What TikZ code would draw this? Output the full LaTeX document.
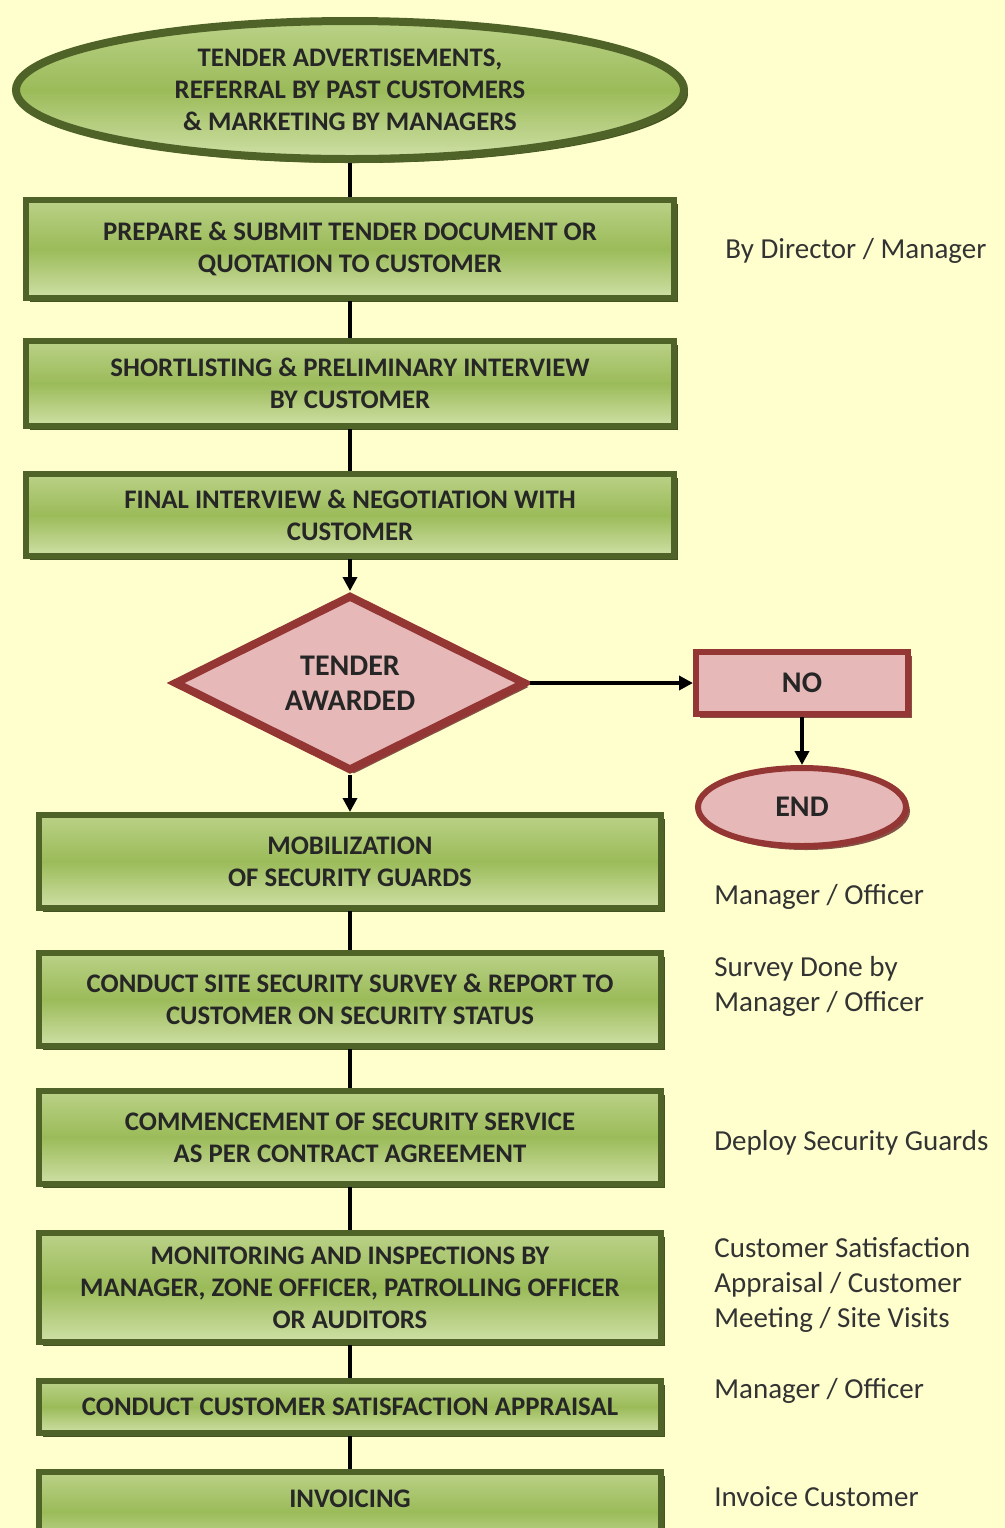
\documentclass[tikz,border=0pt]{standalone}
\usepackage{fontspec}
\setmainfont{Carlito}
\usetikzlibrary{arrows.meta,positioning,shapes.geometric,shadows}

\definecolor{bgyellow}{HTML}{FFFFCE}
\definecolor{olivedark}{HTML}{4F6228}
\definecolor{olivemid}{HTML}{9BBB59}
\definecolor{olivelight}{HTML}{CFE0A6}
\definecolor{reddark}{HTML}{943634}
\definecolor{pinkfill}{HTML}{E6B9B8}
\definecolor{notegray}{HTML}{333333}

\tikzset{
  greenfill/.style={top color=olivelight!60!olivemid, bottom color=olivelight, middle color=olivemid},
  greenshadow/.style={drop shadow={shadow xshift=2pt, shadow yshift=-2pt, fill=olivedark!85!black, opacity=1}},
  redshadow/.style={drop shadow={shadow xshift=2pt, shadow yshift=-2pt, fill=reddark!70!black, opacity=.8}},
  boxtext/.style={align=center, text=black!85, font=\fontsize{13.4pt}{16pt}\selectfont\bfseries},
  stepbox/.style={rectangle, draw=olivedark, line width=3pt, greenfill, greenshadow, boxtext},
  startshape/.style={ellipse, draw=olivedark, line width=4pt, inner sep=0pt, greenfill, greenshadow, boxtext},
  decision/.style={diamond, aspect=2, draw=reddark, line width=4pt, inner sep=0pt, fill=pinkfill, redshadow,
    align=center, text=black!85, font=\fontsize{15pt}{17.5pt}\selectfont\bfseries},
  endbox/.style={draw=reddark, line width=3pt, fill=pinkfill, redshadow,
    text=black!85, font=\fontsize{15pt}{17.5pt}\selectfont\bfseries},
  note/.style={anchor=west, inner sep=0pt, align=left, text=notegray, font=\fontsize{14.5pt}{17.5pt}\selectfont},
  conn/.style={line width=2.3pt, black}
}

\begin{document}
\begin{tikzpicture}[x=0.5pt, y=-0.5pt, >={Triangle[length=7pt,width=7pt]}]
  \useasboundingbox (0,0) rectangle (1005,1528);
  \clip (0,0) rectangle (1005,1528);
  \fill[bgyellow] (0,0) rectangle (1005,1528);

  % main column
  \node[startshape, minimum width=334pt, minimum height=69pt] (src) at (350,90)
    {TENDER ADVERTISEMENTS,\\REFERRAL BY PAST CUSTOMERS\\\& MARKETING BY MANAGERS};
  \node[stepbox, minimum width=324pt, minimum height=49pt, below=17pt of src] (prep)
    {PREPARE \& SUBMIT TENDER DOCUMENT OR\\QUOTATION TO CUSTOMER};
  \node[stepbox, minimum width=324pt, minimum height=42.5pt, below=18.5pt of prep] (short)
    {SHORTLISTING \& PRELIMINARY INTERVIEW\\BY CUSTOMER};
  \node[stepbox, minimum width=324pt, minimum height=41pt, below=21pt of short] (final)
    {FINAL INTERVIEW \& NEGOTIATION WITH\\CUSTOMER};
  \node[decision, minimum width=176pt, minimum height=88pt, below=16pt of final] (award)
    {TENDER\\AWARDED};
  \node[stepbox, minimum width=311pt, minimum height=46.5pt, below=18.5pt of award] (mob)
    {MOBILIZATION\\OF SECURITY GUARDS};
  \node[stepbox, minimum width=311pt, minimum height=46.5pt, below=19.5pt of mob] (survey)
    {CONDUCT SITE SECURITY SURVEY \& REPORT TO\\CUSTOMER ON SECURITY STATUS};
  \node[stepbox, minimum width=311pt, minimum height=46.5pt, below=19.5pt of survey] (comm)
    {COMMENCEMENT OF SECURITY SERVICE\\AS PER CONTRACT AGREEMENT};
  \node[stepbox, minimum width=311pt, minimum height=54.5pt, below=21.5pt of comm] (monit)
    {MONITORING AND INSPECTIONS BY\\MANAGER, ZONE OFFICER, PATROLLING OFFICER\\OR AUDITORS};
  \node[stepbox, minimum width=311pt, minimum height=26pt, below=16.5pt of monit] (apprs)
    {CONDUCT CUSTOMER SATISFACTION APPRAISAL};
  \node[stepbox, minimum width=311pt, minimum height=40pt, text height=9pt, text depth=14pt,
    below=16.5pt of apprs] (inv) {INVOICING};

  % no branch
  \node[endbox, minimum width=106pt, minimum height=31pt, right=81.5pt of award] (no) {NO};
  \node[endbox, ellipse, inner sep=0pt, minimum width=104pt, minimum height=39pt,
    below=24pt of no] (stop) {END};

  % connectors
  \draw[conn] (src) -- (prep);
  \draw[conn] (prep) -- (short);
  \draw[conn] (short) -- (final);
  \draw[conn,->] (final) -- (award);
  \draw[conn,->] (award) -- (mob);
  \draw[conn] (mob) -- (survey);
  \draw[conn] (survey) -- (comm);
  \draw[conn] (comm) -- (monit);
  \draw[conn] (monit) -- (apprs);
  \draw[conn] (apprs) -- (inv);
  \draw[conn,->] (award) -- (no);
  \draw[conn,->] (no) -- (stop);

  % side notes
  \node[note] (ndir) at (725,251) {By Director / Manager};
  \node[note] (nmob) at (714,897) {Manager / Officer};
  \node[note] (nsvy) at (714,986) {Survey Done by\\Manager / Officer};
  \node[note] (ndep) at (714,1143) {Deploy Security Guards};
  \node[note] (nsat) at (714,1285) {Customer Satisfaction\\Appraisal / Customer\\Meeting / Site Visits};
  \node[note] (napr) at (714,1391) {Manager / Officer};
  \node[note] (ninv) at (714,1497) {Invoice Customer};
\end{tikzpicture}
\end{document}
